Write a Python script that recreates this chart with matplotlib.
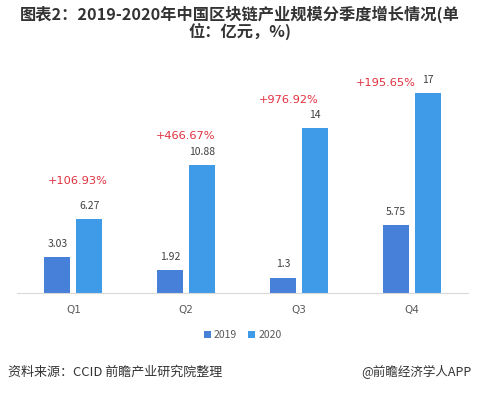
"""Quarterly blockchain industry scale, 2019 vs 2020."""

import matplotlib

matplotlib.use("Agg")

import matplotlib.pyplot as plt
import numpy as np

plt.rcParams["font.family"] = ["Noto Sans CJK SC", "DejaVu Sans"]

quarters = ["Q1", "Q2", "Q3", "Q4"]
values_2019 = [3.03, 1.92, 1.3, 5.75]
values_2020 = [6.27, 10.88, 14, 17]
labels_2019 = ["3.03", "1.92", "1.3", "5.75"]
labels_2020 = ["6.27", "10.88", "14", "17"]
growth = ["+106.93%", "+466.67%", "+976.92%", "+195.65%"]

# growth label placement relative to the 2020 bar top (pixels)
growth_dx = [-12, -17, -26, -42]
growth_dy = [38, 29, 28, 10]

C2019 = "#4680D8"
C2020 = "#3F9BE8"
TEXT = "#404040"

fig = plt.figure(figsize=(4.8, 3.93), dpi=100)
ax = fig.add_axes([17 / 480, 1 - 293 / 393, 451 / 480, 223.5 / 393])

x = np.arange(len(quarters))
w = 0.23
off = 0.142
ax.bar(x - off, values_2019, width=w, color=C2019, label="2019")
ax.bar(x + off, values_2020, width=w, color=C2020, label="2020")

px = 72 / 100  # pixels -> points
for i in range(len(quarters)):
    ax.annotate(labels_2019[i], (x[i] - off, values_2019[i]), xytext=(0, 6),
                textcoords="offset points", ha="center", va="bottom",
                fontsize=7.5, color=TEXT)
    ax.annotate(labels_2020[i], (x[i] + off, values_2020[i]), xytext=(0, 6),
                textcoords="offset points", ha="center", va="bottom",
                fontsize=7.5, color=TEXT)
    ax.annotate(growth[i], (x[i] + off, values_2020[i]),
                xytext=(growth_dx[i] * px, growth_dy[i] * px),
                textcoords="offset points", ha="center", va="center",
                fontsize=8.2, color="#E0303E", family=["DejaVu Sans"])

ax.set_xlim(-0.5, 3.5)
ax.set_ylim(0, 19)
ax.set_xticks(x)
ax.set_xticklabels(quarters, fontsize=7.5, color="#595959", family=["DejaVu Sans"])
ax.tick_params(axis="x", length=0, pad=9)
ax.set_yticks([])
for side in ["top", "left", "right"]:
    ax.spines[side].set_visible(False)
ax.spines["bottom"].set_color("#d9d9d9")

ax.legend(loc="center", bbox_to_anchor=(0.5, -0.19), ncol=2, frameon=False,
          fontsize=7.5, handlelength=0.7, handleheight=0.7, handletextpad=0.3,
          columnspacing=1.0, labelcolor="#595959")

fig.text(0.5, 1 - 14 / 393, "图表2：2019-2020年中国区块链产业规模分季度增长情况(单",
         ha="center", va="center", fontsize=11.7, fontweight="bold", color="#333333")
fig.text(0.5, 1 - 32 / 393, "位：亿元，%)",
         ha="center", va="center", fontsize=11.7, fontweight="bold", color="#333333")

fig.text(8 / 480, 1 - 372 / 393, "资料来源：CCID 前瞻产业研究院整理",
         ha="left", va="center", fontsize=9.4, color="#333333")
fig.text(472 / 480, 1 - 372 / 393, "@前瞻经济学人APP",
         ha="right", va="center", fontsize=9, color="#333333")

fig.savefig("out.png", dpi=100, facecolor="white")
